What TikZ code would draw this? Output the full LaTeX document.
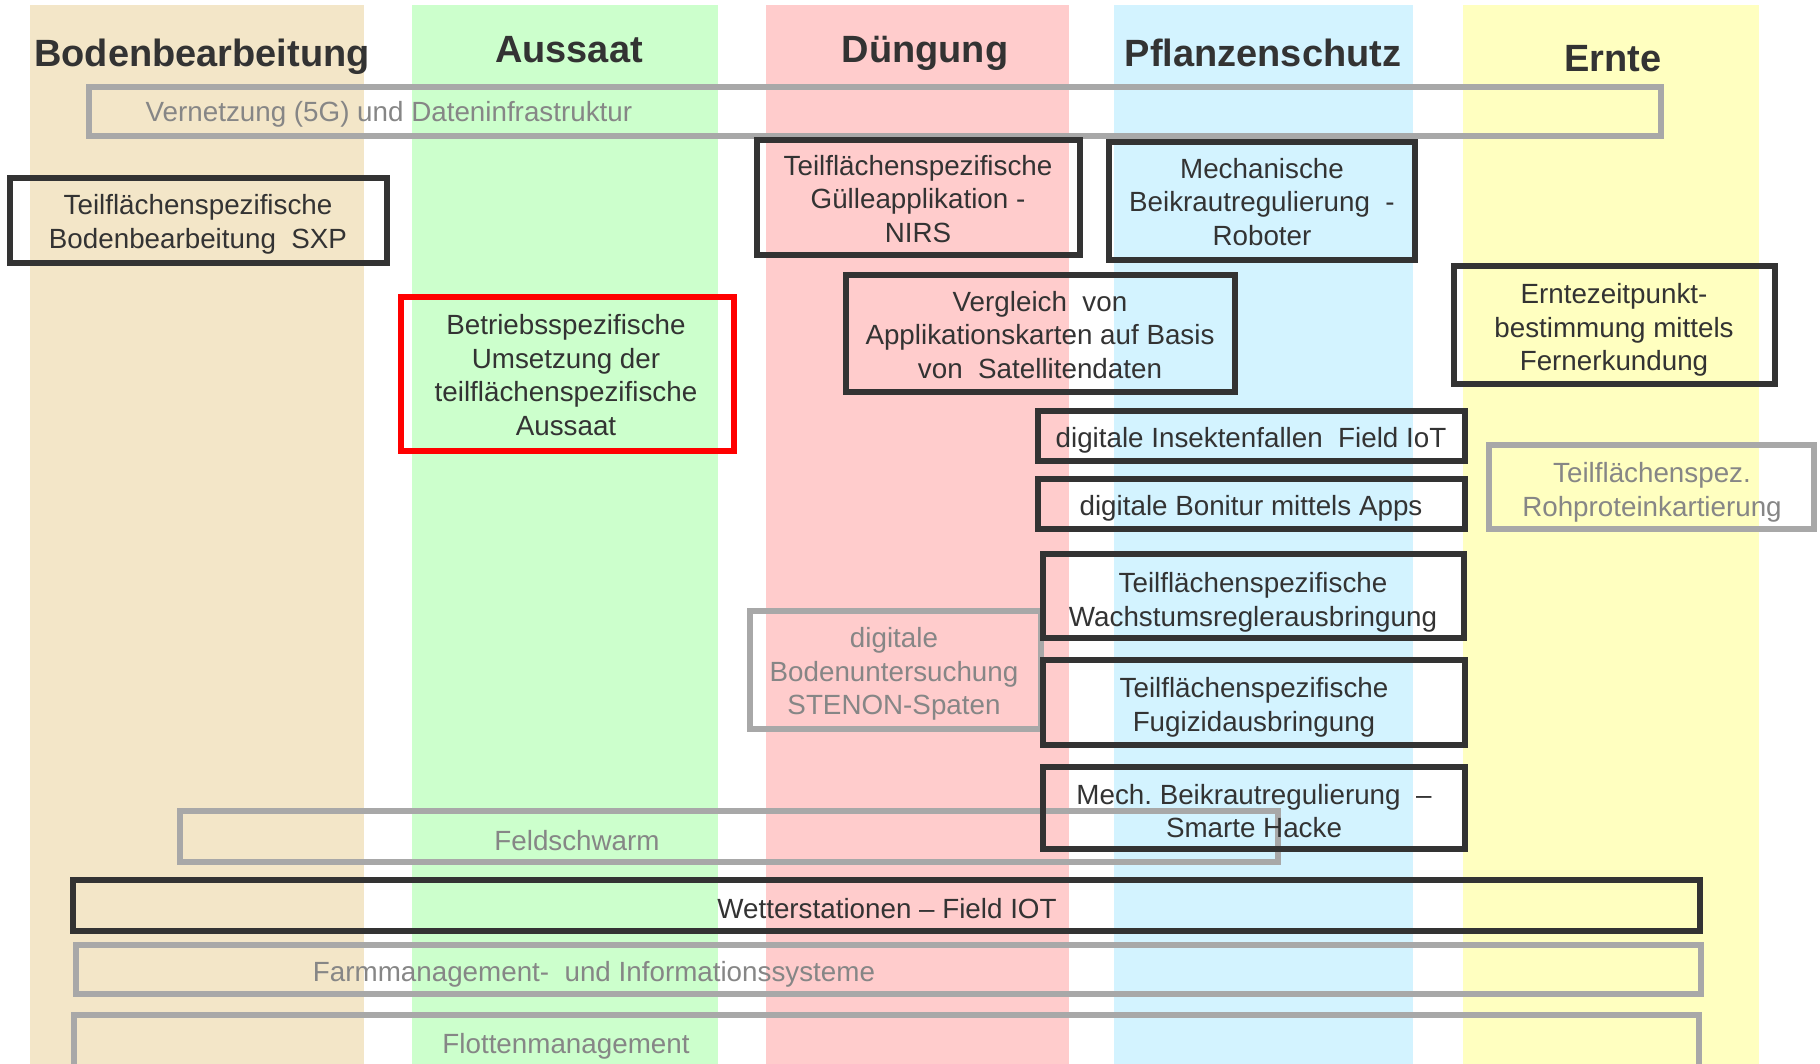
\documentclass[tikz,border=0pt]{standalone}
\usepackage{fontspec}
\setmainfont{Liberation Sans}
\usepackage{tikz}

\definecolor{colBoden}{HTML}{F3E6C8}
\definecolor{colAussaat}{HTML}{CCFFCC}
\definecolor{colDuengung}{HTML}{FFCCCC}
\definecolor{colSchutz}{HTML}{D3F3FF}
\definecolor{colErnte}{HTML}{FFFFC0}
\definecolor{dark}{HTML}{333333}
\definecolor{greyline}{HTML}{A8A8A8}
\definecolor{greytext}{HTML}{868686}

\begin{document}
\begin{tikzpicture}[x=0.01cm, y=-0.01cm,
    txt/.style={font=\fontsize{7.9}{9.6}\selectfont, text=dark, align=center, inner sep=0pt, yshift=-0.03cm},
    greytxt/.style={txt, text=greytext},
    head/.style={font=\bfseries\fontsize{10.8}{13}\selectfont, text=dark, inner sep=0pt, anchor=base},
    blackbox/.style={draw=dark, line width=1.8pt},
    greybox/.style={draw=greyline, line width=1.6pt},
    redbox/.style={draw=red, line width=1.8pt}]
    \clip (0,0) rectangle (1820,1064);

    \fill[colBoden] (30,5) rectangle (364,1064);
    \fill[colAussaat] (412,5) rectangle (718,1064);
    \fill[colDuengung] (766,5) rectangle (1069,1064);
    \fill[colSchutz] (1114,5) rectangle (1413,1064);
    \fill[colErnte] (1463,5) rectangle (1759,1064);

    \node[head] (hBoden) at (202,67) {Bodenbearbeitung};
    \node[head] (hAussaat) at (569,63) {Aussaat};
    \node[head] (hDuengung) at (925,63) {Düngung};
    \node[head] (hSchutz) at (1263,67) {Pflanzenschutz};
    \node[head] (hErnte) at (1613,72) {Ernte};

    \draw[greybox] (89,87) rectangle (1661,136);
    \node[greytxt, anchor=west] (vernetzung) at (145,111) {Vernetzung (5G) und Dateninfrastruktur};

    \draw[blackbox] (10,178) rectangle (387,263);
    \node[txt] (sxp) at (198,221) {Teilflächenspezifische\\Bodenbearbeitung~ SXP};

    \draw[blackbox] (757,140) rectangle (1080,255);
    \node[txt] (guelle) at (918,196) {Teilflächenspezifische\\Gülleapplikation -\\NIRS};

    \draw[blackbox] (1109,142) rectangle (1415,260);
    \node[txt] (roboter) at (1262,199) {Mechanische\\Beikrautregulierung~ -\\Roboter};

    \draw[redbox] (401,297) rectangle (734,451);
    \node[txt] (aussaatbox) at (566,372) {Betriebsspezifische\\Umsetzung der\\teilflächenspezifische\\Aussaat};

    \draw[blackbox] (846,275) rectangle (1235,392);
    \node[txt] (vergleich) at (1040,332) {Vergleich~ von\\Applikationskarten auf Basis\\von~ Satellitendaten};

    \draw[blackbox] (1454,266) rectangle (1775,384);
    \node[txt] (erntezeit) at (1614,327) {Erntezeitpunkt-\\bestimmung mittels\\Fernerkundung};

    \draw[blackbox] (1038,411) rectangle (1465,461);
    \node[txt] (insekten) at (1251,437) {digitale Insektenfallen~ Field IoT};

    \draw[blackbox] (1038,479) rectangle (1465,529);
    \node[txt] (bonitur) at (1251,505) {digitale Bonitur mittels Apps};

    \draw[greybox] (1489,445) rectangle (1814,529);
    \node[greytxt] (rohprotein) at (1652,489) {Teilflächenspez.\\Rohproteinkartierung};

    \draw[greybox] (750,611) rectangle (1041,729);
    \node[greytxt] (stenon) at (894,671) {digitale\\Bodenuntersuchung\\STENON-Spaten};

    \draw[blackbox] (1043,554) rectangle (1464,638);
    \node[txt] (wachstum) at (1253,599) {Teilflächenspezifische\\Wachstumsreglerausbringung};

    \draw[blackbox] (1043,660) rectangle (1465,745);
    \node[txt] (fungizid) at (1254,704) {Teilflächenspezifische\\Fugizidausbringung};

    \draw[greybox] (180,811) rectangle (1278,862);
    \node[greytxt] (feldschwarm) at (577,838) {Feldschwarm};

    \draw[blackbox] (1043,767) rectangle (1465,849);
    \node[txt] (hacke) at (1254,808) {Mech.\ Beikrautregulierung~ –\\Smarte Hacke};

    \draw[blackbox] (73,880) rectangle (1700,931);
    \node[txt] (wetter) at (887,906) {Wetterstationen – Field IOT};

    \draw[greybox] (76,945) rectangle (1701,994);
    \node[greytxt] (farm) at (594,971) {Farmmanagement-~ und Informationssysteme};

    \draw[greybox] (74,1015) rectangle (1699,1090);
    \node[greytxt] (flotte) at (566,1043) {Flottenmanagement};
\end{tikzpicture}
\end{document}
